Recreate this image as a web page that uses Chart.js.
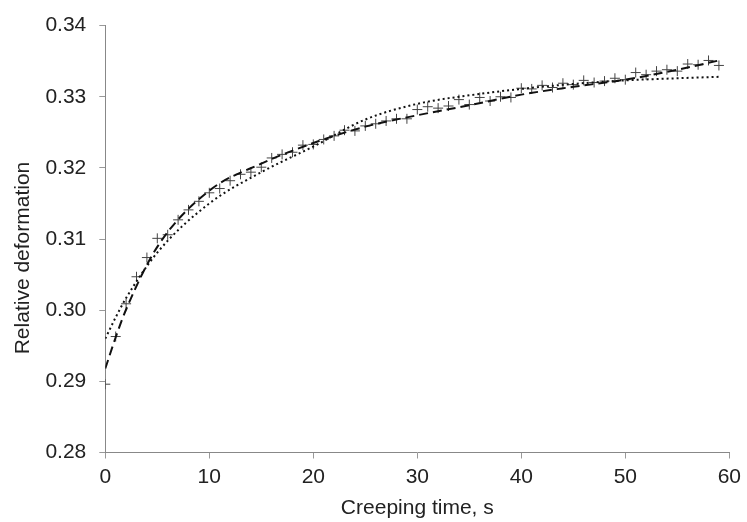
<!DOCTYPE html>
<html>
<head>
<meta charset="utf-8">
<script src="https://cdn.jsdelivr.net/npm/chart.js@4"></script>
<style>
html,body{margin:0;padding:0;background:#fff;}
#wrap{width:747px;height:522px;position:relative;}
</style>
</head>
<body>
<div id="wrap"><canvas id="c" width="747" height="522"></canvas></div>
<script>
const times = [0,1,2,3,4,5,6,7,8,9,10,11,12,13,14,15,16,17,18,19,20,21,22,23,24,25,26,27,28,29,30,31,32,33,34,35,36,37,38,39,40,41,42,43,44,45,46,47,48,49,50,51,52,53,54,55,56,57,58,59];
const deformation = [0.2896,0.2963,0.3009,0.3047,0.3074,0.3101,0.3106,0.3127,0.3141,0.3153,0.3165,0.3171,0.3182,0.3191,0.3194,0.3201,0.3214,0.3219,0.3222,0.3232,0.3233,0.3240,0.3245,0.3253,0.3252,0.3259,0.3262,0.3266,0.3269,0.3269,0.3282,0.3286,0.3284,0.3287,0.3296,0.3289,0.3299,0.3294,0.3300,0.3299,0.3312,0.3311,0.3316,0.3313,0.3319,0.3317,0.3323,0.3320,0.3322,0.3326,0.3324,0.3334,0.3331,0.3336,0.3338,0.3336,0.3346,0.3345,0.3351,0.3344];
const fitTimes = [0,1,2,5,10,15,20,25,30,35,40,45,50,55,59];
const dashedFit = [0.2918,0.2962,0.3001,0.3089,0.3168,0.3206,0.3235,0.3258,0.3274,0.3288,0.3303,0.3314,0.3324,0.3338,0.3351];
const dottedFit = [0.2960,0.2990,0.3017,0.3081,0.3150,0.3194,0.3230,0.3268,0.3290,0.3302,0.3311,0.3318,0.3323,0.3326,0.3328];
const xTicks = [0,10,20,30,40,50,60];
const yTicks = [0.28,0.29,0.30,0.31,0.32,0.33,0.34];
const xTitle = 'Creeping time, s';
const yTitle = 'Relative deformation';

const pts = (xs, ys) => xs.map((x,i)=>({x:x,y:ys[i]}));
const FONT = '"Liberation Sans", Arial, sans-serif';
const FS = 21;

Chart.defaults.font.family = FONT;
Chart.defaults.color = '#222';

const titlesPlugin = {
  id: 'axisTitles',
  afterDraw(chart) {
    const ctx = chart.ctx;
    const a = chart.chartArea;
    ctx.save();
    ctx.fillStyle = '#222';
    ctx.font = FS + 'px ' + FONT;
    ctx.textAlign = 'center';
    ctx.textBaseline = 'middle';
    ctx.fillText(xTitle, (a.left + a.right) / 2, 508);
    ctx.translate(23, 258);
    ctx.rotate(-Math.PI / 2);
    ctx.fillText(yTitle, 0, 0);
    ctx.restore();
  }
};

new Chart(document.getElementById('c'), {
  type: 'scatter',
  data: {
    datasets: [
      {
        label: 'Dotted fit',
        data: pts(fitTimes, dottedFit),
        showLine: true,
        borderColor: '#111',
        borderWidth: 2,
        borderDash: [2,3],
        pointRadius: 0,
        fill: false,
        cubicInterpolationMode: 'monotone'
      },
      {
        label: 'Dashed fit',
        data: pts(fitTimes, dashedFit),
        showLine: true,
        borderColor: '#111',
        borderWidth: 2,
        borderDash: [9,5],
        pointRadius: 0,
        fill: false,
        cubicInterpolationMode: 'monotone'
      },
      {
        label: 'Experiment',
        data: pts(times, deformation),
        showLine: false,
        pointStyle: 'cross',
        pointRadius: 5,
        borderColor: '#444',
        borderWidth: 1,
        backgroundColor: '#444'
      }
    ]
  },
  plugins: [titlesPlugin],
  options: {
    responsive: false,
    animation: false,
    devicePixelRatio: 1,
    layout: { padding: { left: 0, right: 17, top: 17, bottom: 0 } },
    plugins: { legend: { display: false }, tooltip: { enabled: false } },
    scales: {
      x: {
        type: 'linear',
        min: 0, max: 60,
        afterFit: (s) => { s.height = 69.5; },
        afterBuildTicks: (s) => { s.ticks = xTicks.map(v=>({value:v})); },
        ticks: { font: { size: FS }, padding: 6, color: '#222', maxRotation: 0, callback: v => String(v) },
        grid: { drawOnChartArea: false, drawTicks: true, tickLength: 6, color: '#999' },
        border: { color: '#888', width: 1 },
        title: { display: false }
      },
      y: {
        type: 'linear',
        min: 0.28, max: 0.34,
        afterFit: (s) => { s.width = 105.3; },
        afterBuildTicks: (s) => { s.ticks = yTicks.map(v=>({value:v})); },
        ticks: { font: { size: FS }, padding: 13, color: '#222', callback: v => v.toFixed(2) },
        grid: { drawOnChartArea: false, drawTicks: true, tickLength: 6, color: '#999' },
        border: { color: '#888', width: 1 },
        title: { display: false }
      }
    }
  }
});
</script>
</body>
</html>
